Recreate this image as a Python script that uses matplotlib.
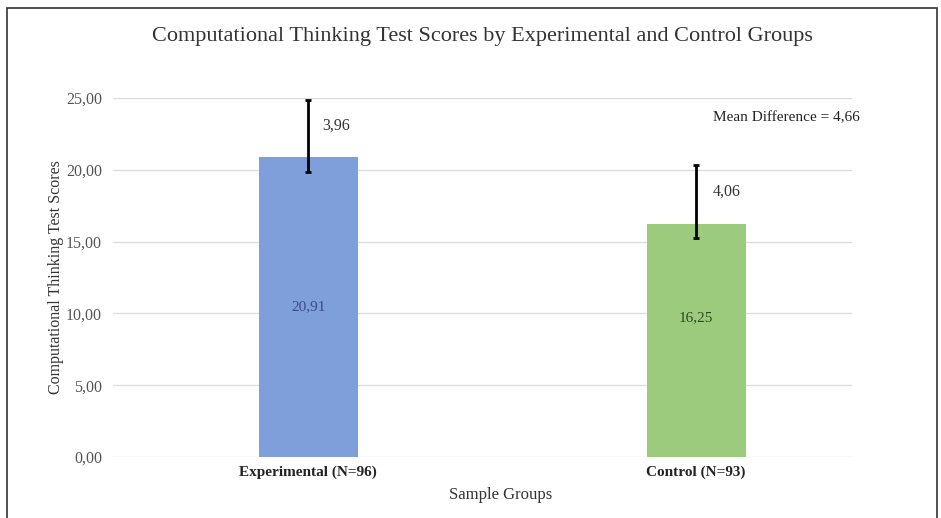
import matplotlib.pyplot as plt
from matplotlib.patches import Rectangle

groups = ['Experimental (N=96)', 'Control (N=93)']
means = [20.91, 16.25]
sd = [3.96, 4.06]
err_low = [1.06, 1.0]
mean_labels = ['20,91', '16,25']
sd_labels = ['3,96', '4,06']
yticks = [0, 5, 10, 15, 20, 25]
ytick_labels = ['0,00', '5,00', '10,00', '15,00', '20,00', '25,00']

plt.rcParams['font.family'] = ['Liberation Serif', 'DejaVu Serif']

fig = plt.figure(figsize=(9.41, 5.18), dpi=100)
ax = fig.add_axes([0.1201, 0.1178, 0.7853, 0.693])

# frame around the whole chart
fig.patches.append(Rectangle((7 / 941, -0.05), 930 / 941, 1.05 - 8 / 518,
                             transform=fig.transFigure, fill=False,
                             ec='#333333', lw=1.2))

x = range(len(groups))
cols = ['#7f9fdb', '#9dcb7d']
ax.bar(x, means, width=0.255, color=cols, zorder=2)
ax.errorbar(x, means, yerr=[err_low, sd], fmt='none', ecolor='black',
            elinewidth=2, capsize=2.5, capthick=2, zorder=3)

offs = [0.036, 0.044]
for i in x:
    ax.text(i + offs[i], means[i] + sd[i] - 1.8, sd_labels[i], fontsize=11.5,
            color='#333333', ha='left', va='center')
ax.text(0, 10.45, mean_labels[0], fontsize=11, color='#3b4c82', ha='center', va='center')
ax.text(1, 9.68, mean_labels[1], fontsize=11, color='#2d4a1c', ha='center', va='center')

ax.text(1.045, 23.6, 'Mean Difference = 4,66', fontsize=11, color='#222222',
        ha='left', va='center')

ax.set_xlim(-0.503, 1.402)
ax.set_ylim(0, 25)
ax.set_yticks(yticks)
ax.set_yticklabels(ytick_labels, fontsize=11.5, color='#555555')
ax.set_xticks(list(x))
ax.set_xticklabels(groups, fontsize=11, fontweight='bold', color='#222222')
ax.tick_params(length=0, pad=8)
ax.tick_params(axis='x', pad=6)
ax.grid(axis='y', color='#dddddd', lw=1, zorder=0)
for s in ax.spines.values():
    s.set_visible(False)

ax.set_xlabel('Sample Groups', fontsize=12, color='#333333')
ax.xaxis.set_label_coords(0.525, -0.085)
ax.set_ylabel('Computational Thinking Test Scores', fontsize=11.5, color='#333333')
ax.yaxis.set_label_coords(-0.067, 0.5)
fig.text(0.513, 0.93, 'Computational Thinking Test Scores by Experimental and Control Groups',
         ha='center', va='center', fontsize=16, color='#333333')

fig.savefig('out.png', dpi=100)
